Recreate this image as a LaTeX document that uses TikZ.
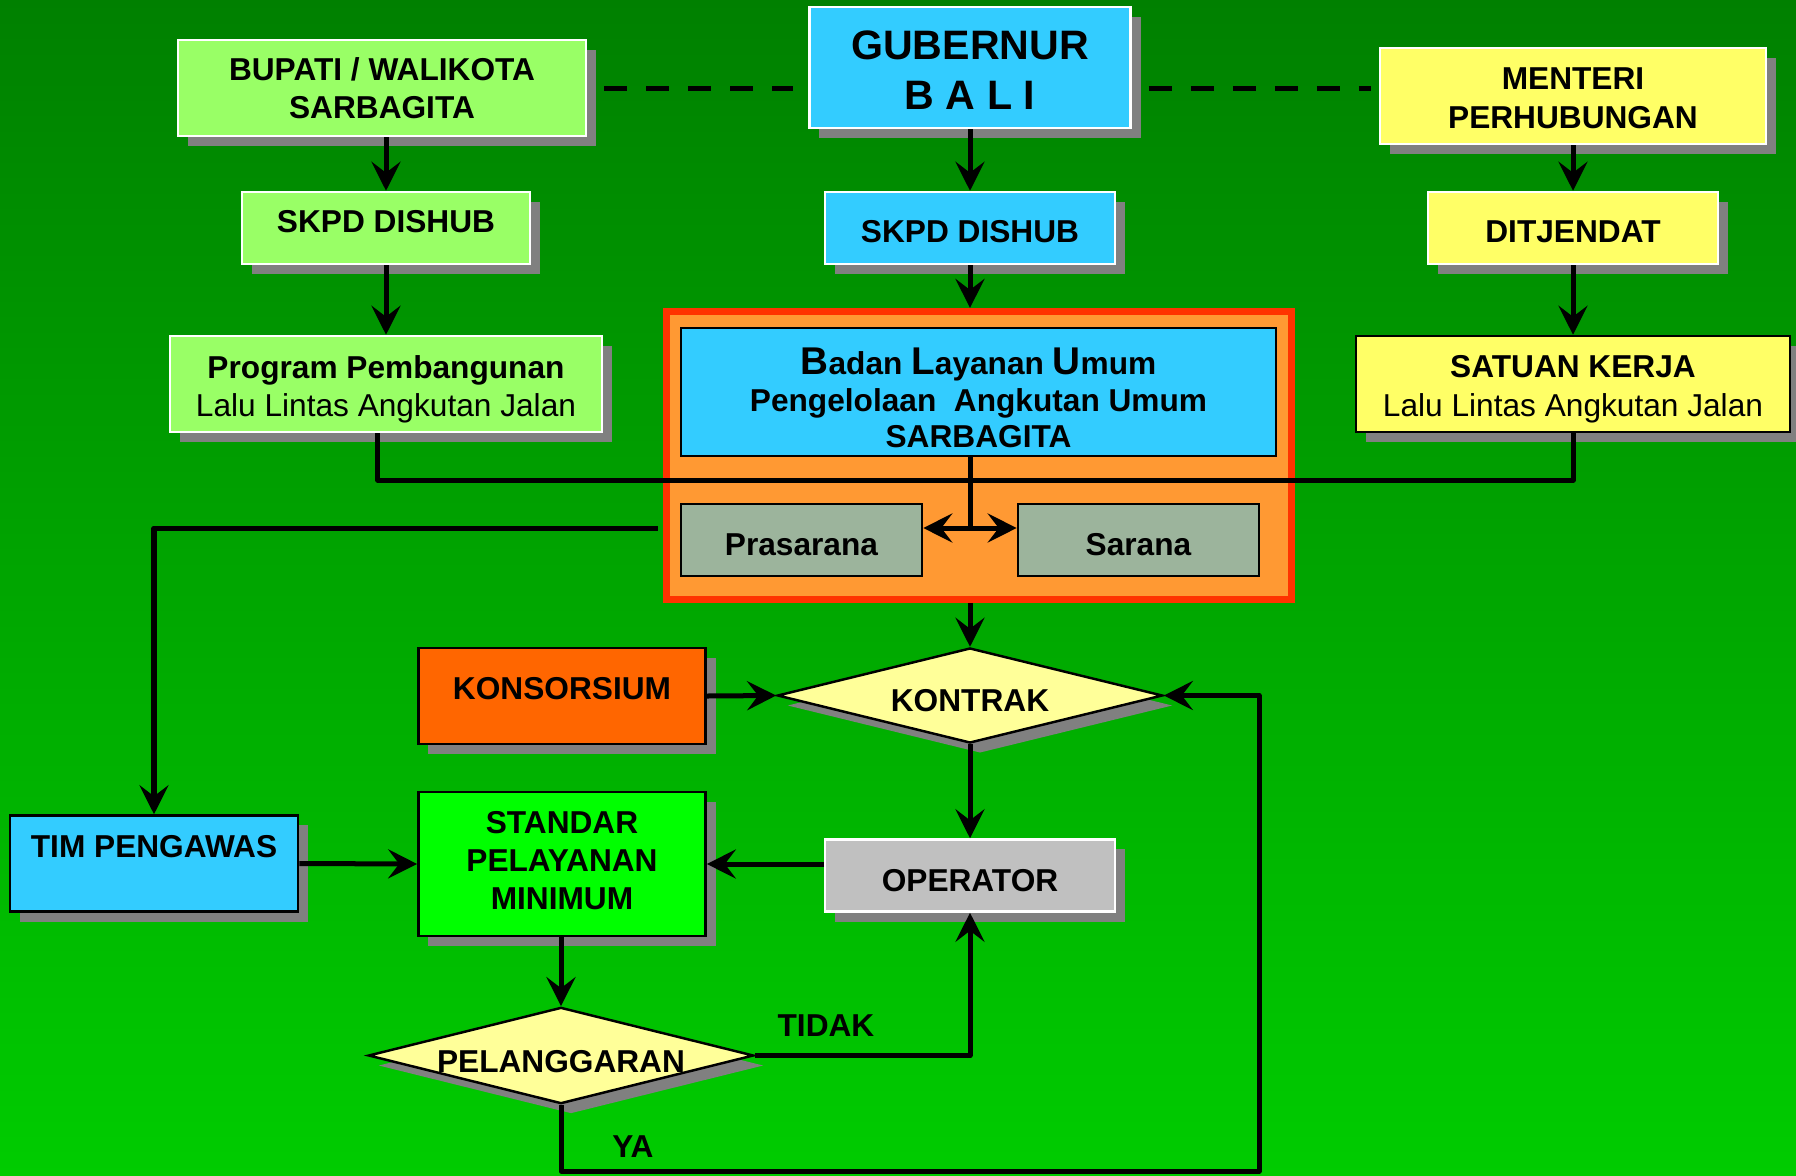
\documentclass[tikz,border=0pt]{standalone}
\usepackage{fontspec}
\setmainfont{Liberation Sans}
\usetikzlibrary{shapes.geometric, shadows, arrows.meta}

\definecolor{bgtop}{RGB}{0,128,0}
\definecolor{bgbot}{RGB}{0,204,0}
\definecolor{biru}{RGB}{51,204,255}
\definecolor{hijau}{RGB}{153,255,102}
\definecolor{hijaumuda}{RGB}{0,255,0}
\definecolor{kuning}{RGB}{255,255,102}
\definecolor{krem}{RGB}{255,255,153}
\definecolor{oranye}{RGB}{255,153,51}
\definecolor{merah}{RGB}{255,51,0}
\definecolor{jingga}{RGB}{255,102,0}
\definecolor{abu}{RGB}{192,192,192}
\definecolor{hijauabu}{RGB}{156,180,156}
\definecolor{bayang}{RGB}{128,128,128}

\newcommand{\besar}{\fontsize{11}{10.4}\selectfont}

\tikzset{
  bayangan/.style={drop shadow={opacity=1, fill=bayang, shadow xshift=0.1cm, shadow yshift=-0.1cm}},
  kotak/.style={rectangle, draw=white, line width=0.7pt, inner sep=0pt, align=center,
    font=\fontsize{9}{10.9}\selectfont\bfseries, bayangan},
  sub/.style={rectangle, draw=black, fill=hijauabu, line width=0.7pt, inner sep=0pt,
    minimum width=2.41cm, minimum height=0.72cm, text height=0.32cm,
    font=\fontsize{9}{10.9}\selectfont\bfseries},
  belah/.style={diamond, aspect=4, draw=black, fill=krem, line width=0.7pt, inner sep=0pt,
    font=\fontsize{9}{10.9}\selectfont\bfseries, bayangan},
  teks/.style={font=\fontsize{9}{10.9}\selectfont\bfseries},
  garis/.style={line width=0.05cm, line join=round},
  panah/.style={garis, -{Stealth[length=0.29cm, width=0.29cm, inset=0.11cm]}},
  putus/.style={line width=0.05cm, dash pattern=on 0.23cm off 0.19cm}
}

\begin{document}
\begin{tikzpicture}[x=0.01cm, y=-0.01cm]
\shade[top color=bgtop, bottom color=bgbot] (0,0) rectangle (1796,1175);
\useasboundingbox (0,0) rectangle (1796,1175);

% baris atas
\node[kotak, fill=biru, minimum width=3.21cm, minimum height=1.21cm, text height=0.846cm, font=\fontsize{11.7}{14.4}\selectfont\bfseries] (1) at (970,67.5) {GUBERNUR\\B A L I};
\node[kotak, fill=hijau, minimum width=4.08cm, minimum height=0.96cm] (2) at (382,88) {BUPATI / WALIKOTA\\SARBAGITA};
\node[kotak, fill=kuning, minimum width=3.86cm, minimum height=0.96cm, text height=0.643cm] (3) at (1573,96) {MENTERI\\PERHUBUNGAN};
\node[kotak, fill=hijau, minimum width=2.88cm, minimum height=0.72cm, text depth=0.13cm] (4) at (386,228) {SKPD DISHUB};
\node[kotak, fill=biru, minimum width=2.9cm, minimum height=0.72cm, text height=0.3cm] (5) at (970,228) {SKPD DISHUB};
\node[kotak, fill=kuning, minimum width=2.9cm, minimum height=0.72cm, text height=0.3cm] (6) at (1573,228) {DITJENDAT};
\node[kotak, fill=hijau, minimum width=4.32cm, minimum height=0.96cm, text height=0.713cm] (7) at (386,384) {Program Pembangunan\\{\mdseries Lalu Lintas Angkutan Jalan}};
\node[kotak, draw=black, fill=kuning, minimum width=4.34cm, minimum height=0.96cm, text height=0.71cm] (8) at (1573,384) {SATUAN KERJA\\{\mdseries Lalu Lintas Angkutan Jalan}};

% BLU
\node[draw=merah, fill=oranye, line width=0.075cm, inner sep=0pt, minimum width=6.245cm, minimum height=2.875cm] (9) at (979,455.5) {};
\node[rectangle, draw=black, fill=biru, line width=0.7pt, inner sep=0pt, align=center, minimum width=5.95cm, minimum height=1.28cm, text height=1.12cm, font=\fontsize{9}{10.4}\selectfont\bfseries] (10) at (978.5,392) {{\besar B}adan {\besar L}ayanan {\besar U}mum\\Pengelolaan\ \ Angkutan Umum\\SARBAGITA};
\node[sub] (11) at (801.5,540) {Prasarana};
\node[sub] (12) at (1138.5,540) {Sarana};

% bawah
\node[kotak, draw=black, fill=jingga, minimum width=2.87cm, minimum height=0.96cm, text depth=0.16cm] (13) at (562,696) {KONSORSIUM};
\node[belah, minimum width=3.85cm, minimum height=0.95cm, text height=0.32cm] (14) at (970,695.5) {KONTRAK};
\node[kotak, draw=black, fill=biru, minimum width=2.88cm, minimum height=0.96cm, text depth=0.35cm] (15) at (154,863.5) {TIM PENGAWAS};
\node[kotak, draw=black, fill=hijaumuda, minimum width=2.87cm, minimum height=1.44cm, text depth=0.07cm] (16) at (562,864) {STANDAR\\PELAYANAN\\MINIMUM};
\node[kotak, fill=abu, minimum width=2.9cm, minimum height=0.72cm, text height=0.32cm] (17) at (970,875.5) {OPERATOR};
\node[belah, minimum width=3.84cm, minimum height=0.95cm, text height=0.34cm] (18) at (561,1055.5) {PELANGGARAN};
\node[teks] (19) at (826,1026) {TIDAK};
\node[teks] (20) at (633,1147) {YA};

\coordinate (c) at (970,528);
\coordinate (d) at (1259,1171);

\draw[putus] ([xshift=0.17cm]2.east) -- ([xshift=-0.15cm]2.east -| 1.west);
\draw[putus] ([xshift=0.17cm]1.east |- 2.east) -- ([xshift=-0.08cm]3.west |- 2.east);

\draw[panah] (2.south -| 4.north) -- (4.north);
\draw[panah] (4) -- (7);
\draw[panah] (1) -- (5);
\draw[panah] (5.south) -- (5.south |- 9.north);
\draw[panah] (3) -- (6);
\draw[panah] (6) -- (8);
\draw[garis] ([xshift=-0.08cm]7.south) -- ++(0,47) -| (8.south);

\draw[garis] (10.south -| c) -- (c);
\draw[garis, {Stealth[length=0.29cm, width=0.29cm, inset=0.11cm]}-{Stealth[length=0.29cm, width=0.29cm, inset=0.11cm]}] (11.east |- c) -- (12.west |- c);
\draw[panah] ([xshift=-0.05cm]9.west |- c) -| (15.north);
\draw[panah] (9.south -| 14.north) -- (14.north);

\draw[panah] (13.east) -- (14.west);
\draw[panah] (14.south) -- (17.north);
\draw[panah] (15.east) -- (16.west);
\draw[panah] (17.west |- 16.east) -- (16.east);
\draw[panah] (18.north |- 16.south) -- (18.north);
\draw[panah] (18.east) -| (17.south);
\draw[panah] (18.south) |- (d) |- (14.east);
\end{tikzpicture}
\end{document}
